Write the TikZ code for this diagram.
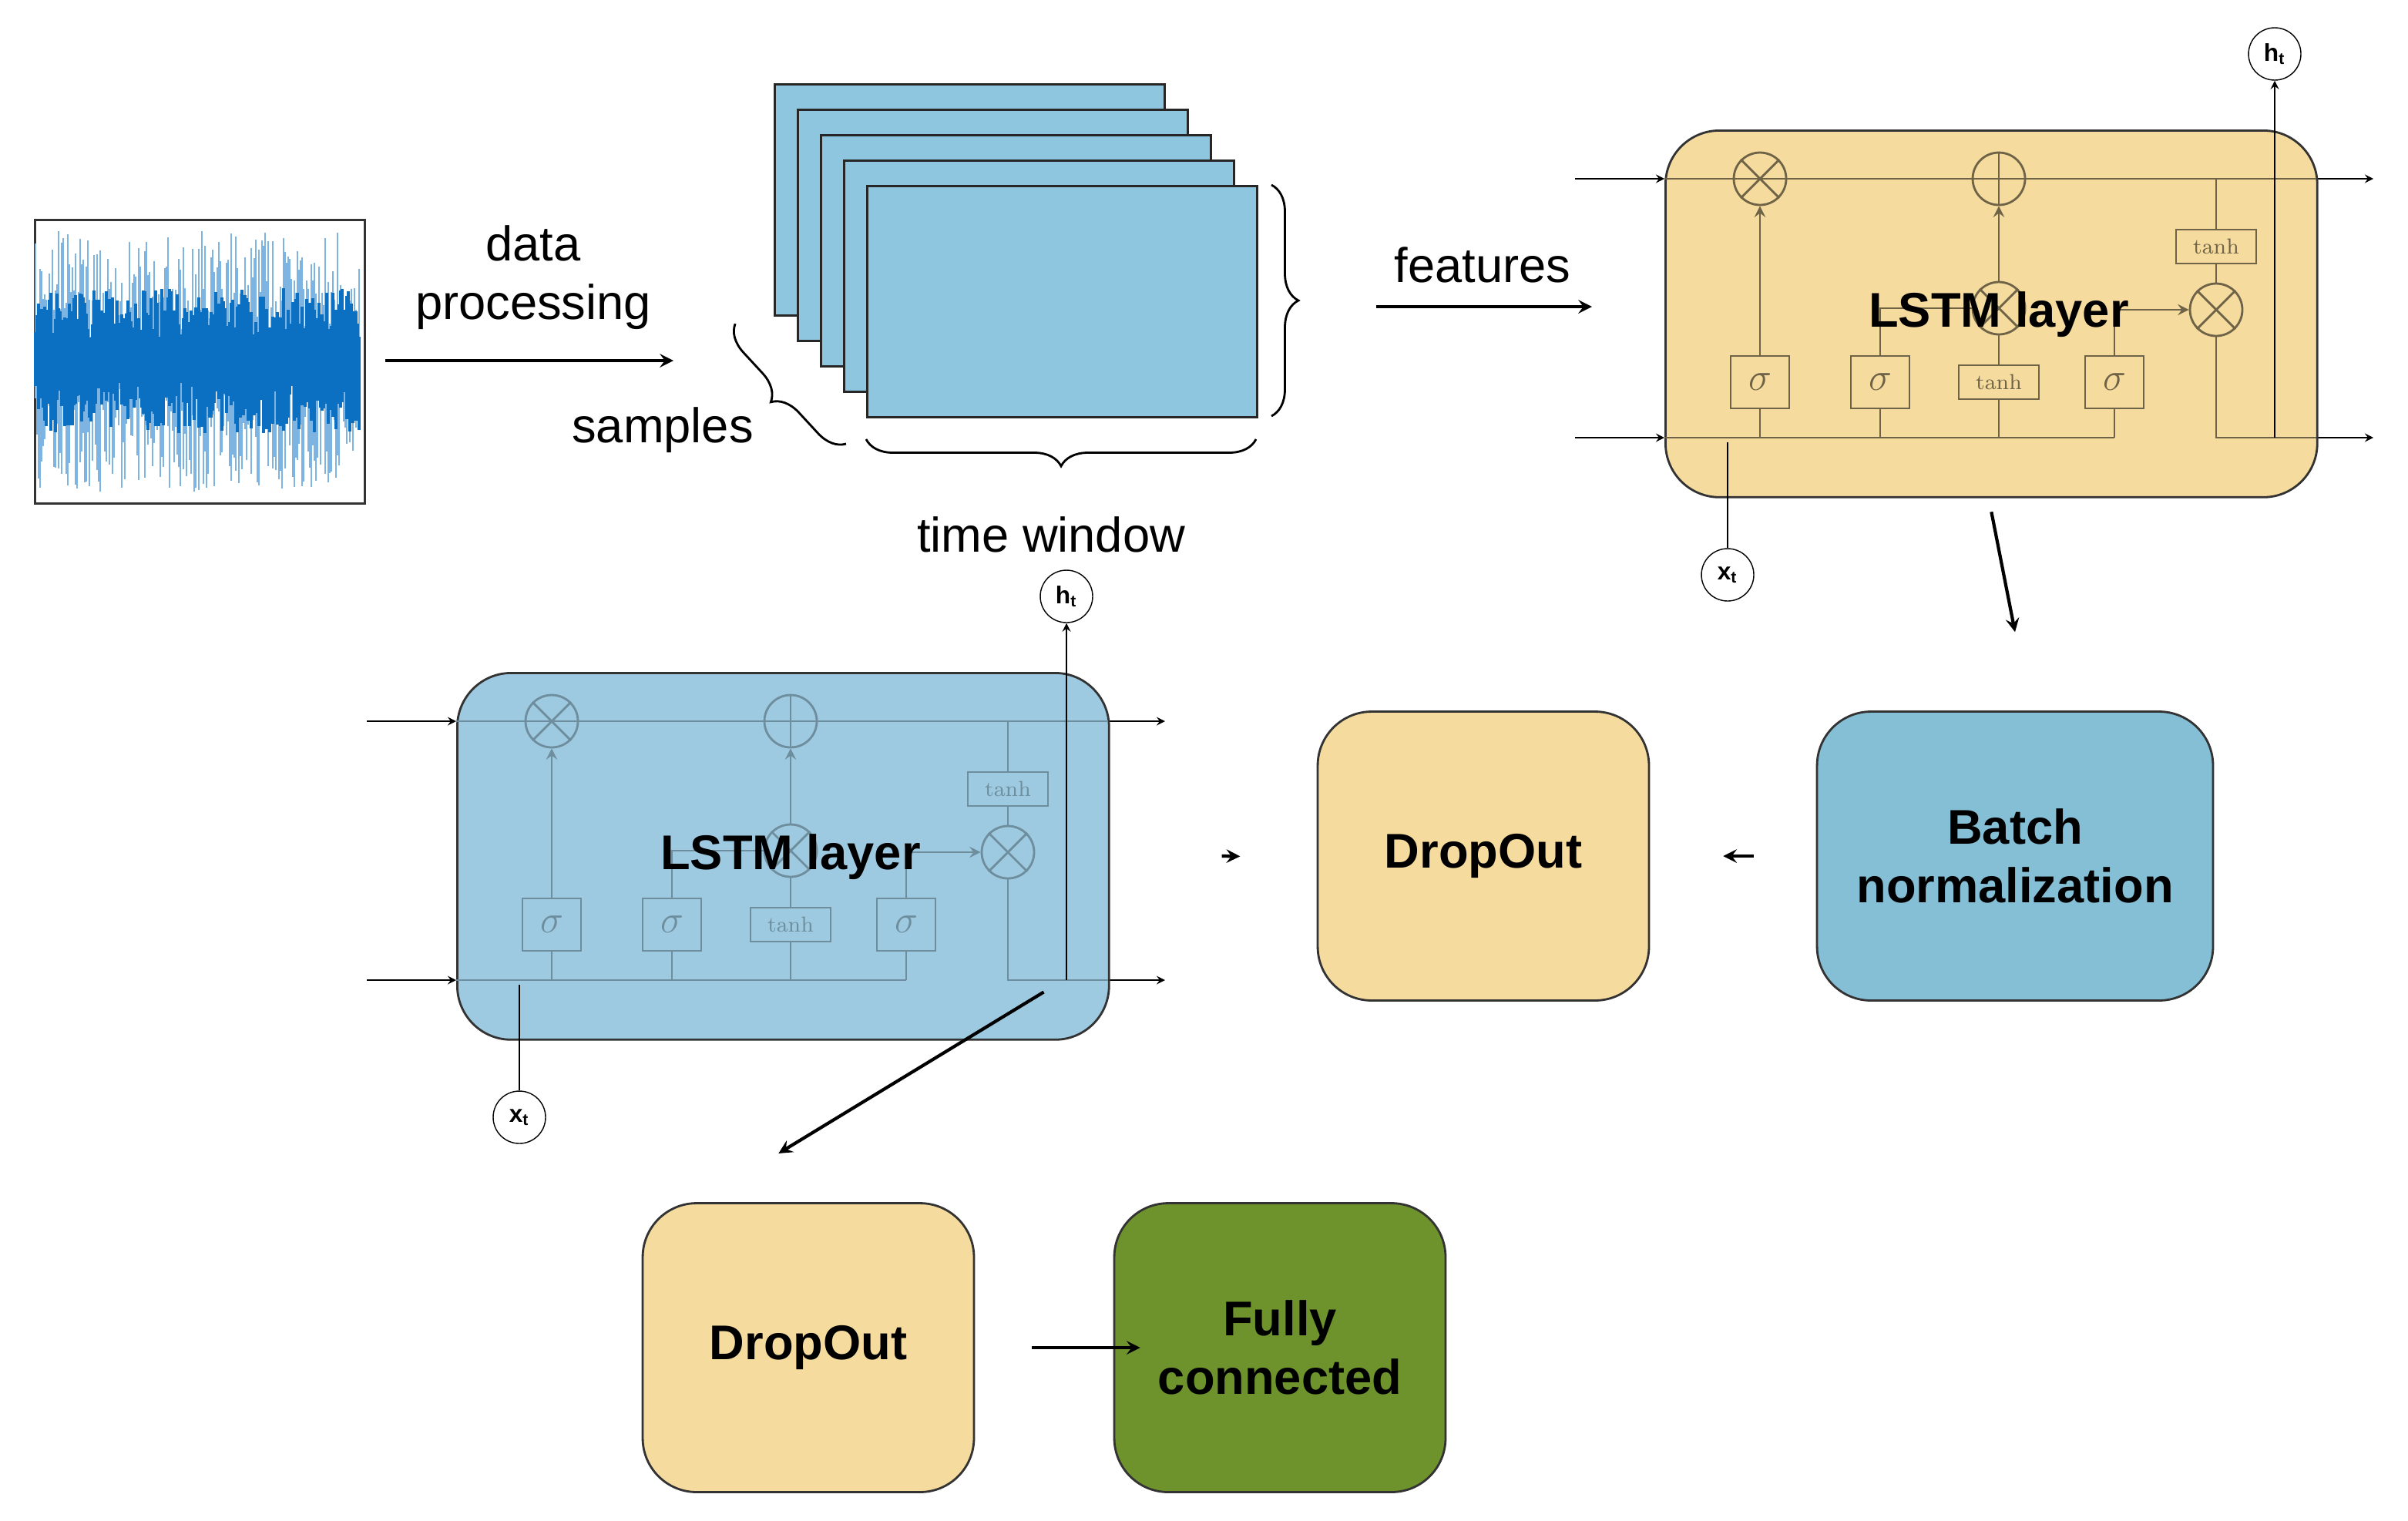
\documentclass[tikz,border=0pt]{standalone}
\usepackage{fontspec}
\setmainfont{Liberation Sans}
\usetikzlibrary{positioning,decorations.pathreplacing}
\definecolor{sigblue}{HTML}{0B6FC2}
\definecolor{siglight}{HTML}{7DB4E2}
\definecolor{stackblue}{HTML}{8EC5DF}
\definecolor{cellyellow}{HTML}{F5DB9E}
\definecolor{cellblue}{HTML}{9DCAE0}
\definecolor{bnblue}{HTML}{85BFD6}
\definecolor{fcgreen}{HTML}{6E922C}
\tikzset{
  arr/.style={very thick,-stealth},
  thinarr/.style={thin,-stealth},
  box/.style={rectangle,rounded corners=0.7cm,draw=black!80,thick,align=center,font=\fontsize{18}{21.5}\selectfont\bfseries,minimum width=4.3cm,minimum height=3.75cm},
  io/.style={circle,draw,fill=white,inner sep=0pt,minimum size=0.68cm,font=\small\bfseries},
  gate/.style={rectangle,draw,minimum width=0.76cm,minimum height=0.68cm,inner sep=0pt},
  tnh/.style={rectangle,draw,minimum width=1.04cm,minimum height=0.44cm,inner sep=0pt,font=\fontfamily{lmr}\selectfont\footnotesize},
  op/.style={circle,draw,minimum size=0.68cm,inner sep=0pt},
  lbl/.style={font=\fontsize{18}{21.5}\selectfont,align=center},
}
% one LSTM cell, top left corner at #1
\newcommand{\lstmcell}[4]{%
\begin{scope}[shift={#1}]
  \draw[thinarr] (-58,32) -- (0,32);
  \draw[thinarr] (-58,200) -- (0,200);
  \draw[thinarr] (423,32) -- (460,32);
  \draw[thinarr] (423,200) -- (460,200);
  \node[box,minimum width=8.46cm,minimum height=4.76cm,fill=#2,anchor=north west] (#4) at (0,0) {};
  \begin{scope}[draw=#3,text=#3,thick]
    \draw (0,32) -- (423,32);
    \draw (0,200) -- (292,200);
    \node[op] (#4m1) at (62,32) {};
    \draw (#4m1.north west) -- (#4m1.south east) (#4m1.north east) -- (#4m1.south west);
    \node[op] (#4add) at (217,32) {};
    \draw (#4add.north) -- (#4add.south) (#4add.west) -- (#4add.east);
    \node[op] (#4m2) at (217,116) {};
    \draw (#4m2.north west) -- (#4m2.south east) (#4m2.north east) -- (#4m2.south west);
    \node[op] (#4m3) at (358,117) {};
    \draw (#4m3.north west) -- (#4m3.south east) (#4m3.north east) -- (#4m3.south west);
    \node[gate] (#4s1) at (62,164) {\Large$\sigma$};
    \node[gate] (#4s2) at (140,164) {\Large$\sigma$};
    \node[tnh] (#4t1) at (217,164) {tanh};
    \node[gate] (#4s3) at (292,164) {\Large$\sigma$};
    \node[tnh] (#4t2) at (358,76) {tanh};
    \draw (62,200) -- (#4s1);
    \draw (140,200) -- (#4s2);
    \draw (217,200) -- (#4t1);
    \draw (292,200) -- (#4s3);
    \draw[-stealth] (#4s1) -- (#4m1);
    \draw (#4t1) -- (#4m2);
    \draw[-stealth] (#4m2) -- (#4add);
    \draw (#4s2) |- (#4m2);
    \draw[-stealth] (#4s3) |- (#4m3);
    \draw (358,32) -- (#4t2) -- (#4m3);
    \draw (#4m3) |- (423,200);
  \end{scope}
  \node[font=\fontsize{18}{21.5}\selectfont\bfseries] at (217,120) {LSTM layer};
  \node[io] (#4h) at (396,-49) {h\textsubscript{t}};
  \node[io] (#4x) at (41,289) {x\textsubscript{t}};
  \draw[thin,-stealth] (396,200) -- (#4h);
  \draw[thin] (41,203) -- (#4x);
\end{scope}}

\begin{document}
\begin{tikzpicture}[x=0.02cm,y=-0.02cm]
\useasboundingbox (0,0) rectangle (1562.5,986.5);
% raw signal
\node[rectangle,draw=black!80,thick,minimum width=4.28cm,minimum height=3.68cm,anchor=north west] (signal) at (22,142) {};
\pgfmathsetseed{7}
\foreach \i in {1,...,211} {
  \pgfmathsetmacro{\a}{15+70*rnd}
  \pgfmathsetmacro{\b}{15+70*rnd}
  \draw[siglight,line width=0.5pt] (22+\i,234-\a) -- (22+\i,234+\b);
}
\foreach \i in {1,...,211} {
  \pgfmathsetmacro{\a}{12+35*rnd}
  \pgfmathsetmacro{\b}{12+35*rnd}
  \draw[sigblue,line width=0.9pt] (22+\i,234-\a) -- (22+\i,234+\b);
}
\node[lbl] (proc) at (346,180) {data\\processing};
\coordinate (p0) at (250,234);
\coordinate (p1) at (437,234);
\draw[arr] (p0) -- (p1);
% stacked windows
\foreach \k in {0,...,4}
  \node[rectangle,draw=black!85,thick,fill=stackblue,minimum width=5.06cm,minimum height=3cm,anchor=north west] (win\k) at (502+15*\k,54+16.5*\k) {};
\draw[thick,decorate,decoration={brace,amplitude=0.35cm}] (825,120) -- (825,270);
\draw[thick,decorate,decoration={brace,amplitude=0.35cm}] (815,285) -- (562,285);
\draw[thick,decorate,decoration={brace,amplitude=0.35cm}] (549,288) -- (477,210);
\node[lbl] (tw) at (682,347) {time window};
\node[lbl] (smp) at (430,279) {samples};
\node[lbl] (feat) at (962,172) {features};
\coordinate (f0) at (893,199);
\coordinate (f1) at (1033,199);
\draw[arr] (f0) -- (f1);
% LSTM cells
\lstmcell{(1080,84)}{cellyellow}{black!55!cellyellow}{lstmA}
\lstmcell{(296,436)}{cellblue}{black!30!cellblue}{lstmB}
% layers
\node[box,fill=bnblue,minimum width=5.14cm] (bn) at (1307.5,555.5) {Batch\\normalization};
\node[box,fill=cellyellow] (dropA) at (962.5,555.5) {DropOut};
\node[box,fill=cellyellow] (dropB) at (524.5,874.5) {DropOut};
\node[box,fill=fcgreen] (fc) at (830.5,874.5) {Fully\\connected};
\draw[arr] ([yshift=-5]lstmA.south) -- ([yshift=29]bn.north);
\draw[arr] ([xshift=-23]bn.west) -- ([xshift=27]dropA.east);
\draw[arr] ([xshift=-35]dropA.west) -- ([xshift=48]lstmB.east);
\draw[arr] ([xshift=217,yshift=18]lstmB.south west) -- ([xshift=-11,yshift=18]dropB.north);
\draw[arr] ([xshift=21]dropB.east) -- ([xshift=10]fc.west);
\end{tikzpicture}
\end{document}
